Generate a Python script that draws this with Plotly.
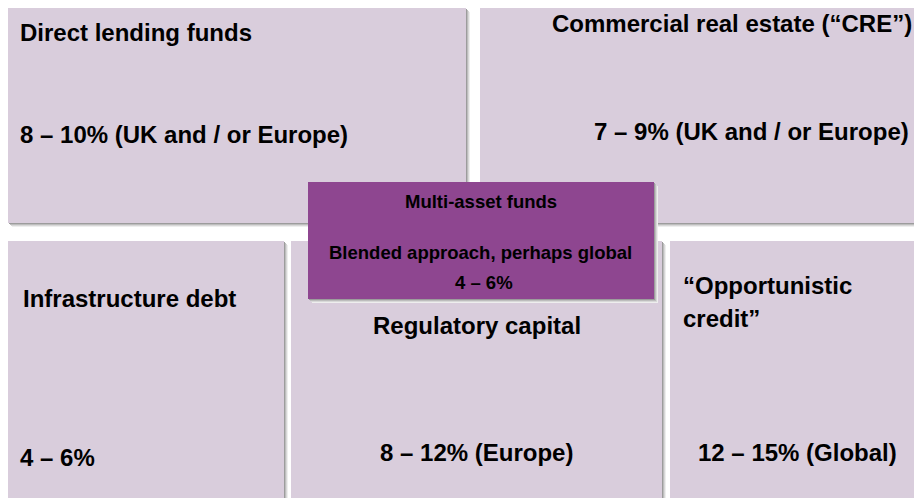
import plotly.graph_objects as go

# ---- content ----
box_titles = ["Direct lending funds", "Commercial real estate (\u201cCRE\u201d)",
              "Infrastructure debt", "Regulatory capital",
              "\u201cOpportunistic<br>credit\u201d", "Multi-asset funds"]
box_returns = ["8 \u2013 10% (UK and / or Europe)", "7 \u2013 9% (UK and / or Europe)",
               "4 \u2013 6%", "8 \u2013 12% (Europe)", "12 \u2013 15% (Global)", "4 \u2013 6%"]
multi_note = "Blended approach, perhaps global"

# ---- layout (pixel geometry, in window pixels) ----
W, H = 914, 498
rects = [(8, 8, 466, 223), (480, 8, 930, 223), (8, 241, 284, 510),
         (291, 241, 662, 510), (670, 241, 930, 510), (308, 182, 654, 299)]
fills = ["#D9CDDC"] * 5 + ["#8E4690"]
# title placement: (x, y, xanchor, xshift)
title_pos = [(18, 32, "left", 0), (913, 23, "right", 1), (21, 298, "left", 0),
             (476.5, 325, "center", 0), (681, 285, "left", 0), (481, 201, "center", 0)]
ret_pos = [(18, 134, "left", 0), (911, 131, "right", 0), (18, 457, "left", 0),
           (476.5, 452, "center", 0), (797.5, 452, "center", 0), (484, 282, "center", 0)]
note_pos = (480.5, 252)
big, small = 24, 18.5
sizes = [big, big, big, big, big, small]
line_gap = 33

fig = go.Figure()
shapes = []
shadow_cols = ["#EEEEEE", "#D8D8D8", "#BDBDBD", "#9C9C9C"]
for (x0, y0, x1, y1), col in zip(rects, fills):
    for d, sc in zip([4, 3, 2, 1], shadow_cols):
        shapes.append(dict(type="rect", xref="x", yref="y", x0=x0 + d, y0=y0 + d,
                           x1=x1 + d, y1=y1 + d, fillcolor=sc, line=dict(width=0),
                           layer="below"))
    shapes.append(dict(type="rect", xref="x", yref="y", x0=x0, y0=y0, x1=x1, y1=y1,
                       fillcolor=col, line=dict(width=0), layer="below"))

font_family = "Arial, Liberation Sans, sans-serif"
anns = []
def add(text, x, y, anchor, size, xshift=0):
    anns.append(dict(text="<b>" + text + "</b>", x=x, y=y, xref="x", yref="y",
                     xanchor=anchor, yanchor="middle", showarrow=False, xshift=xshift,
                     font=dict(family=font_family, size=size, color="#000000")))

for t, (x, y, a, sh), s in zip(box_titles, title_pos, sizes):
    for i, line in enumerate(t.split("<br>")):
        add(line, x, y + i * line_gap, a, s, sh)
for t, (x, y, a, sh), s in zip(box_returns, ret_pos, sizes):
    add(t, x, y, a, s, sh)
add(multi_note, note_pos[0], note_pos[1], "center", small)

fig.update_layout(
    width=W, height=H, margin=dict(l=0, r=0, t=0, b=0),
    paper_bgcolor="white", plot_bgcolor="white",
    shapes=shapes, annotations=anns, showlegend=False,
    xaxis=dict(range=[0, W], visible=False, fixedrange=True),
    yaxis=dict(range=[H, 0], visible=False, fixedrange=True),
)
fig.write_html("out.html", config={"displayModeBar": False},
               post_script="document.body.style.margin='0';"
                           "document.body.style.overflow='hidden';")
